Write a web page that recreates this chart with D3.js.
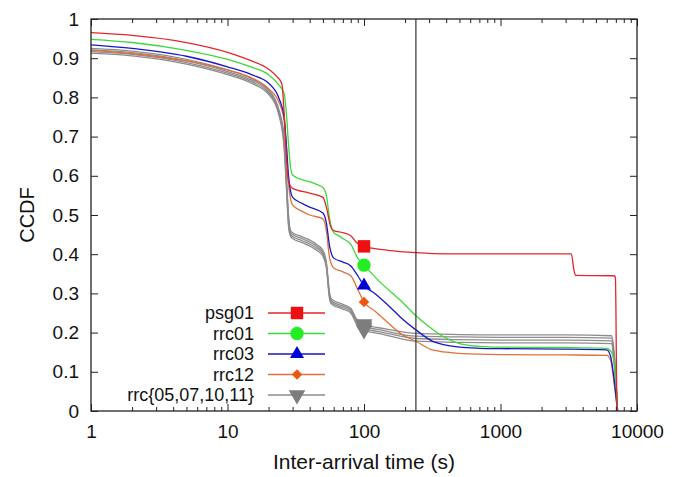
<!DOCTYPE html>
<html>
<head>
<meta charset="utf-8">
<script src="https://cdn.jsdelivr.net/npm/d3@7"></script>
<style>
  html, body { margin: 0; padding: 0; background: #fff; }
  svg { display: block; }
  text { font-family: "Liberation Sans", Arial, Helvetica, sans-serif; fill: #111; }
</style>
</head>
<body>
<svg id="chart" width="683" height="477"></svg>
<script>
// ---- data ----
const seriesNames = ["psg01", "rrc01", "rrc03", "rrc12", "rrc05", "rrc07", "rrc10", "rrc11"];
const legendLabels = ["psg01", "rrc01", "rrc03", "rrc12", "rrc{05,07,10,11}"];

const psg01X = [1, 2, 5, 10, 15, 20, 23, 25, 26, 27, 28, 30, 40, 50, 53, 57, 60, 70, 80, 88, 100, 150, 240, 400, 1000, 3300, 3450, 3550, 6800, 6950, 7100, 7200];
const psg01Y = [0.965, 0.958, 0.94, 0.915, 0.893, 0.872, 0.853, 0.835, 0.76, 0.65, 0.585, 0.568, 0.556, 0.545, 0.52, 0.47, 0.46, 0.455, 0.447, 0.43, 0.42, 0.41, 0.404, 0.401, 0.401, 0.401, 0.36, 0.346, 0.345, 0.34, 0.06, 0];

const rrc01X = [1, 2, 5, 10, 15, 20, 24, 26, 27, 28, 29, 30, 35, 40, 45, 50, 53, 56, 60, 65, 70, 80, 90, 100, 130, 184, 240, 300, 380, 500, 700, 1000, 3000, 6000, 6500, 7000, 7200];
const rrc01Y = [0.948, 0.94, 0.92, 0.897, 0.877, 0.858, 0.83, 0.81, 0.76, 0.68, 0.62, 0.602, 0.59, 0.585, 0.578, 0.57, 0.55, 0.49, 0.455, 0.448, 0.44, 0.425, 0.39, 0.372, 0.33, 0.283, 0.243, 0.215, 0.19, 0.172, 0.165, 0.163, 0.162, 0.16, 0.15, 0.08, 0];

const rrc03X = [1, 2, 5, 10, 15, 20, 24, 26, 27, 28, 30, 35, 40, 50, 53, 56, 60, 70, 80, 90, 100, 120, 150, 184, 240, 322, 500, 700, 1000, 3000, 6000, 6400, 6800, 7200];
const rrc03Y = [0.934, 0.925, 0.905, 0.878, 0.858, 0.836, 0.795, 0.75, 0.68, 0.6, 0.545, 0.53, 0.52, 0.505, 0.48, 0.42, 0.39, 0.38, 0.37, 0.345, 0.32, 0.3, 0.27, 0.24, 0.207, 0.177, 0.163, 0.16, 0.159, 0.158, 0.156, 0.14, 0.08, 0];

const rrc12X = [1, 2, 5, 10, 15, 20, 24, 26, 27, 28, 30, 35, 40, 50, 53, 56, 60, 70, 80, 90, 100, 120, 150, 184, 240, 322, 500, 700, 1000, 3000, 6000, 6400, 6800, 7200];
const rrc12Y = [0.92, 0.912, 0.893, 0.87, 0.85, 0.822, 0.785, 0.74, 0.67, 0.58, 0.525, 0.51, 0.5, 0.49, 0.46, 0.39, 0.365, 0.355, 0.345, 0.31, 0.278, 0.255, 0.225, 0.198, 0.178, 0.155, 0.147, 0.145, 0.144, 0.143, 0.142, 0.13, 0.07, 0];

const grayX = [1, 2, 5, 10, 15, 20, 24, 26, 27, 28, 29, 30, 35, 45, 50, 53, 56, 58, 70, 80, 88, 100, 140, 240, 500, 1000, 3000, 6500, 6800, 7200];
const rrc05Y = [0.925, 0.918, 0.897, 0.87, 0.848, 0.82, 0.765, 0.7, 0.6, 0.5, 0.46, 0.455, 0.445, 0.425, 0.41, 0.38, 0.3, 0.285, 0.272, 0.262, 0.235, 0.222, 0.21, 0.198, 0.195, 0.194, 0.194, 0.192, 0.15, 0];
const rrc07Y = [0.921, 0.914, 0.893, 0.866, 0.844, 0.816, 0.76, 0.69, 0.59, 0.49, 0.455, 0.45, 0.44, 0.42, 0.405, 0.375, 0.295, 0.28, 0.268, 0.258, 0.23, 0.217, 0.205, 0.191, 0.189, 0.188, 0.188, 0.186, 0.14, 0];
const rrc10Y = [0.917, 0.91, 0.889, 0.862, 0.84, 0.812, 0.755, 0.68, 0.58, 0.48, 0.45, 0.445, 0.435, 0.415, 0.4, 0.37, 0.29, 0.276, 0.264, 0.254, 0.226, 0.212, 0.2, 0.185, 0.182, 0.181, 0.181, 0.179, 0.13, 0];
const rrc11Y = [0.913, 0.906, 0.885, 0.858, 0.836, 0.808, 0.75, 0.67, 0.57, 0.47, 0.445, 0.44, 0.43, 0.41, 0.395, 0.365, 0.285, 0.272, 0.26, 0.25, 0.222, 0.207, 0.195, 0.178, 0.175, 0.174, 0.174, 0.172, 0.12, 0];

const markerX = 100;
const markerY = [0.42, 0.372, 0.32, 0.278, 0.222, 0.217, 0.212, 0.207];
const vlineX = 240;

const xTickValues = [1, 10, 100, 1000, 10000];
const yTickValues = [0, 0.1, 0.2, 0.3, 0.4, 0.5, 0.6, 0.7, 0.8, 0.9, 1];

// ---- styles ----
const lineColors = ["#e3262a", "#3dd83d", "#1717c8", "#e0703c", "#8c8c8c", "#8c8c8c", "#8c8c8c", "#8c8c8c"];
const markColors = ["#ee1010", "#22ee22", "#0000d8", "#f05510", "#7d7d7d", "#7d7d7d", "#7d7d7d", "#7d7d7d"];
const markTypes  = ["square", "circle", "triangle", "diamond", "triangleDown", "triangleDown", "triangleDown", "triangleDown"];

const seriesX = [psg01X, rrc01X, rrc03X, rrc12X, grayX, grayX, grayX, grayX];
const seriesY = [psg01Y, rrc01Y, rrc03Y, rrc12Y, rrc05Y, rrc07Y, rrc10Y, rrc11Y];

const series = seriesNames.map((n, i) => ({
  name: n,
  points: seriesX[i].map((x, j) => ({ x, y: seriesY[i][j] })),
  color: lineColors[i], mcolor: markColors[i], mtype: markTypes[i], my: markerY[i]
}));

// ---- layout ----
const L = 91, R = 637, T = 19, B = 411;
const svg = d3.select("#chart");
const x = d3.scaleLog().domain([1, 10000]).range([L, R]);
const y = d3.scaleLinear().domain([0, 1]).range([B, T]);

function markerPath(type) {
  const sym = {
    square: d3.symbolSquare, circle: d3.symbolCircle, triangle: d3.symbolTriangle,
    diamond: d3.symbolSquare, triangleDown: d3.symbolTriangle
  }[type];
  const size = { square: 155, circle: 140, triangle: 85, diamond: 55, triangleDown: 120 }[type];
  return d3.symbol().type(sym).size(size)();
}
function markerTransform(type, cx, cy) {
  let t = `translate(${cx},${cy})`;
  if (type === "triangleDown") t += " rotate(180)";
  if (type === "diamond") t += " rotate(45)";
  return t;
}

// lines (gray drawn first, underneath)
const line = d3.line().x(d => x(d.x)).y(d => y(d.y)).curve(d3.curveMonotoneX);
const g = svg.append("g");
const order = [4, 5, 6, 7, 3, 2, 1, 0];
order.forEach(i => {
  const s = series[i];
  g.append("path").datum(s.points).attr("d", line)
    .attr("fill", "none").attr("stroke", s.color).attr("stroke-width", 1.3)
    .attr("stroke-linejoin", "round");
});

// vertical reference line
svg.append("line").attr("x1", x(vlineX)).attr("x2", x(vlineX))
  .attr("y1", y(0)).attr("y2", y(1)).attr("stroke", "#333").attr("stroke-width", 1.2);

// markers at x=100
order.forEach(i => {
  const s = series[i];
  svg.append("path").attr("d", markerPath(s.mtype))
    .attr("transform", markerTransform(s.mtype, x(markerX), y(s.my)))
    .attr("fill", s.mcolor);
});

// axes (gnuplot style, inward ticks on all sides)
const minorX = [];
for (let d = 1; d < 10000; d *= 10) for (let k = 2; k <= 9; k++) minorX.push(d * k);

svg.append("g").attr("transform", `translate(0,${B})`)
  .call(d3.axisBottom(x).tickValues(xTickValues).tickFormat(d3.format("d")).tickSize(-7).tickPadding(14))
  .call(a => a.select(".domain").remove());
svg.append("g").attr("transform", `translate(0,${B})`)
  .call(d3.axisBottom(x).tickValues(minorX).tickFormat("").tickSize(-4))
  .call(a => a.select(".domain").remove());
svg.append("g").attr("transform", `translate(0,${T})`)
  .call(d3.axisTop(x).tickValues(xTickValues).tickFormat("").tickSize(-7))
  .call(a => a.select(".domain").remove());
svg.append("g").attr("transform", `translate(0,${T})`)
  .call(d3.axisTop(x).tickValues(minorX).tickFormat("").tickSize(-4))
  .call(a => a.select(".domain").remove());
svg.append("g").attr("transform", `translate(${L},0)`)
  .call(d3.axisLeft(y).tickValues(yTickValues)
    .tickFormat(d => d === 0 ? "0" : d === 1 ? "1" : d3.format(".1f")(d)).tickSize(-7).tickPadding(12))
  .call(a => a.select(".domain").remove());
svg.append("g").attr("transform", `translate(${R},0)`)
  .call(d3.axisRight(y).tickValues(yTickValues).tickFormat("").tickSize(-7))
  .call(a => a.select(".domain").remove());

svg.selectAll(".tick line").attr("stroke", "#222").attr("stroke-width", 1);
svg.selectAll(".tick text").attr("font-size", 19).attr("fill", "#111")
  .attr("font-family", "'Liberation Sans', Arial, sans-serif");

// border
svg.append("rect").attr("x", L).attr("y", T).attr("width", R - L).attr("height", B - T)
  .attr("fill", "none").attr("stroke", "#222").attr("stroke-width", 1.3);

// axis titles
svg.append("text").attr("x", (L + R) / 2).attr("y", 469).attr("text-anchor", "middle")
  .attr("font-size", 21).text("Inter-arrival time (s)");
svg.append("text").attr("transform", `translate(34,${(T + B) / 2}) rotate(-90)`)
  .attr("text-anchor", "middle").attr("font-size", 20).text("CCDF");

// legend
const legY = [313, 333.5, 354, 374.5, 395];
const legIdx = [0, 1, 2, 3, 4];
const leg = svg.append("g");
legIdx.forEach((si, k) => {
  const s = series[si];
  const yy = legY[k];
  leg.append("text").attr("x", 254).attr("y", yy).attr("dy", "0.35em")
    .attr("text-anchor", "end").attr("font-size", 18).text(legendLabels[k]);
  leg.append("line").attr("x1", 268).attr("x2", 325).attr("y1", yy).attr("y2", yy)
    .attr("stroke", s.color).attr("stroke-width", 1.4);
  leg.append("path").attr("d", markerPath(s.mtype))
    .attr("transform", markerTransform(s.mtype, 297, yy))
    .attr("fill", s.mcolor);
});
</script>
</body>
</html>
